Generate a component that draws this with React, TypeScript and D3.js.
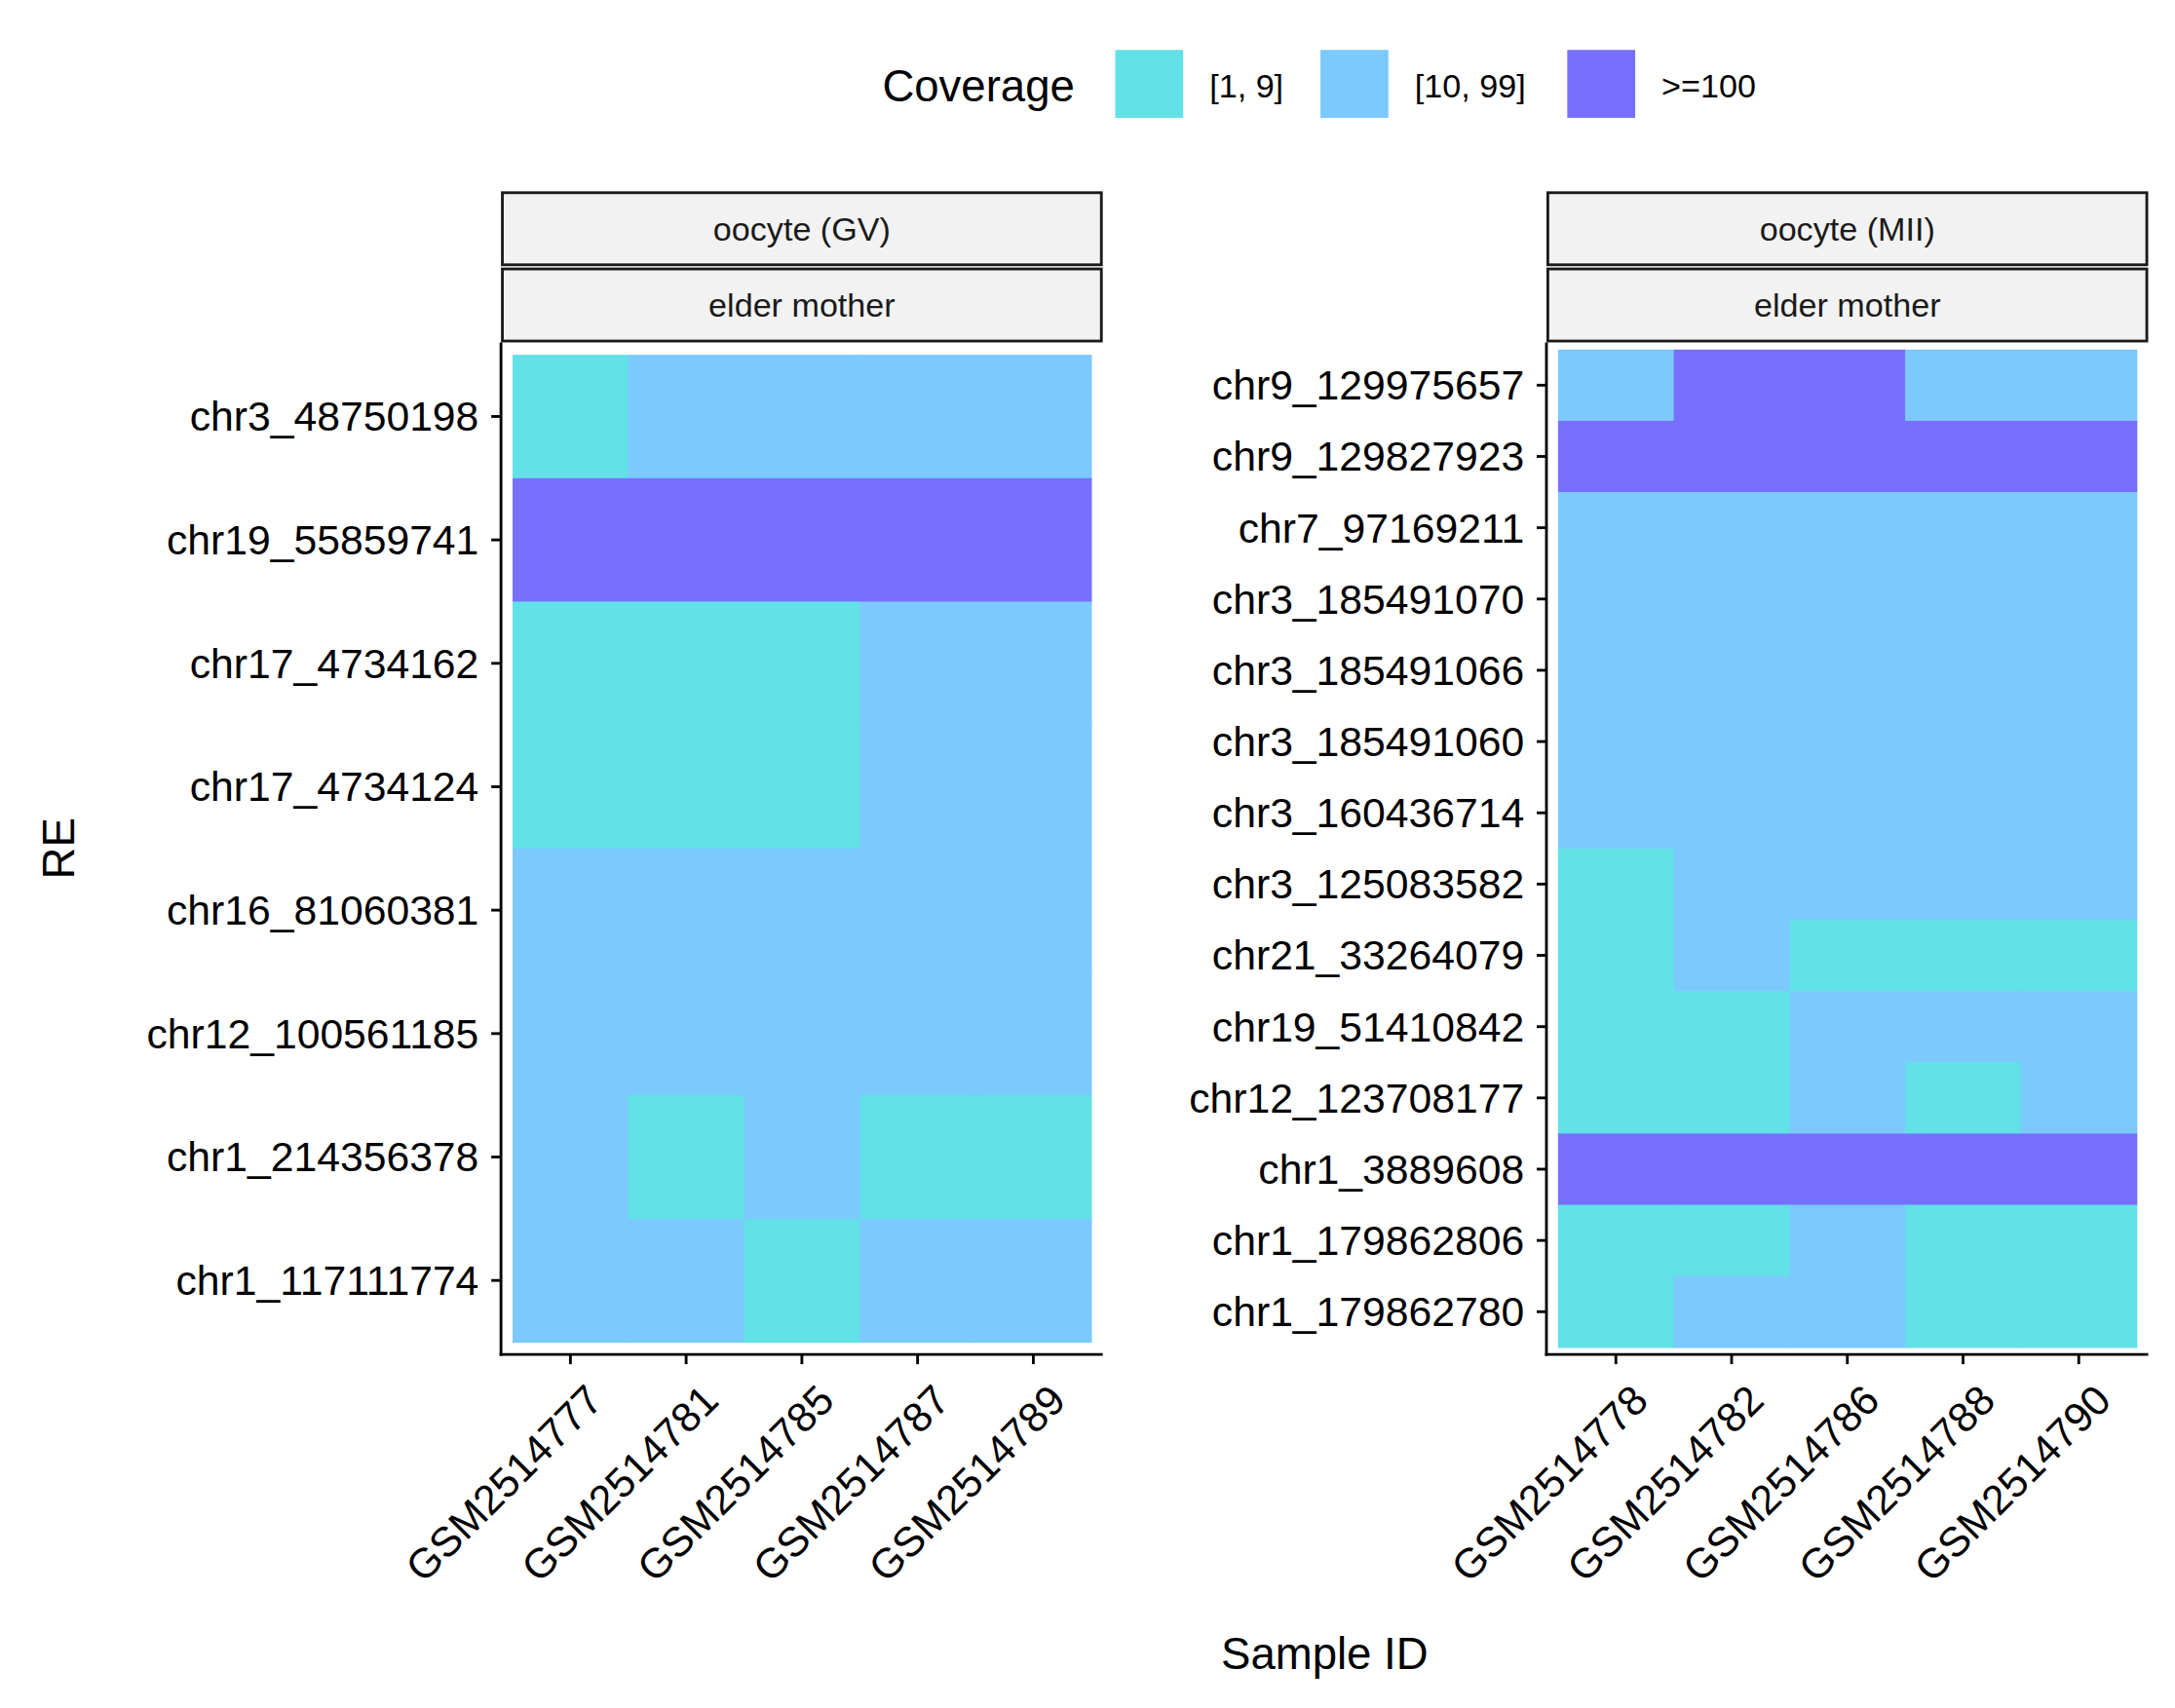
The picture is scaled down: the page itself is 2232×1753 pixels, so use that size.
import React from "react";
import * as d3 from "d3";

const leftSamples = ["GSM2514777","GSM2514781","GSM2514785","GSM2514787","GSM2514789"];
const leftRows = ["chr3_48750198","chr19_55859741","chr17_4734162","chr17_4734124","chr16_81060381","chr12_100561185","chr1_214356378","chr1_117111774"];
const leftValues = [
  [1,2,2,2,2],[3,3,3,3,3],[1,1,1,2,2],[1,1,1,2,2],[2,2,2,2,2],[2,2,2,2,2],[2,1,2,1,1],[2,2,1,2,2],
];
const rightSamples = ["GSM2514778","GSM2514782","GSM2514786","GSM2514788","GSM2514790"];
const rightRows = ["chr9_129975657","chr9_129827923","chr7_97169211","chr3_185491070","chr3_185491066","chr3_185491060","chr3_160436714","chr3_125083582","chr21_33264079","chr19_51410842","chr12_123708177","chr1_3889608","chr1_179862806","chr1_179862780"];
const rightValues = [
  [2,3,3,2,2],[3,3,3,3,3],[2,2,2,2,2],[2,2,2,2,2],[2,2,2,2,2],[2,2,2,2,2],[2,2,2,2,2],[1,2,2,2,2],[1,2,1,1,1],[1,1,2,2,2],[1,1,2,1,2],[3,3,3,3,3],[1,1,2,1,1],[1,2,2,1,1],
];
const legendLabels = ["[1, 9]","[10, 99]",">=100"];
const legendColors = ["#62E1E7","#7BC9FF","#776FFF"];
const color = d3.scaleOrdinal<number,string>().domain([1,2,3]).range(legendColors);

const FONT = "'Liberation Sans', Arial, sans-serif";

function Panel({x0, x1, samples, rows, values, title}:{x0:number;x1:number;samples:string[];rows:string[];values:number[][];title:string}) {
  const y0 = 247, y1 = 977;
  const nx = samples.length, ny = rows.length;
  const xs = d3.scaleLinear().domain([-0.6, nx - 0.4]).range([x0, x1]);
  const ys = d3.scaleLinear().domain([-0.6, ny - 0.4]).range([y0, y1]);
  return (
    <g>
      {values.map((row, r) => row.map((v, c) => (
        <rect key={r+"-"+c} x={xs(c-0.5)} y={ys(r-0.5)} width={xs(c+0.5)-xs(c-0.5)+0.5} height={ys(r+0.5)-ys(r-0.5)+0.5} fill={color(v)} />
      )))}
      <line x1={x0} x2={x0} y1={y0} y2={y1+1} stroke="black" strokeWidth={2} />
      <line x1={x0-1} x2={x1} y1={y1} y2={y1} stroke="black" strokeWidth={2} />
      {rows.map((r, i) => (
        <g key={r}>
          <line x1={x0-7} x2={x0} y1={ys(i)} y2={ys(i)} stroke="black" strokeWidth={2} />
          <text x={x0-16} y={ys(i)} dy="0.35em" textAnchor="end" fontSize={30} fill="#000">{r}</text>
        </g>
      ))}
      {samples.map((s, i) => (
        <g key={s}>
          <line x1={xs(i)} x2={xs(i)} y1={y1} y2={y1+7} stroke="black" strokeWidth={2} />
          <text transform={`translate(${xs(i)+10},${y1+20}) rotate(-45)`} textAnchor="end" dy="0.7em" fontSize={30} fill="#000">{s}</text>
        </g>
      ))}
      <rect x={x0+1} y={139} width={x1-x0-2} height={52} fill="#F2F2F2" stroke="#1a1a1a" strokeWidth={2} />
      <text x={(x0+x1)/2} y={165} dy="0.35em" textAnchor="middle" fontSize={24} fill="#1a1a1a">{title}</text>
      <rect x={x0+1} y={194} width={x1-x0-2} height={52} fill="#F2F2F2" stroke="#1a1a1a" strokeWidth={2} />
      <text x={(x0+x1)/2} y={220} dy="0.35em" textAnchor="middle" fontSize={24} fill="#1a1a1a">elder mother</text>
    </g>
  );
}

export default function App() {
  const keyX = [804, 952, 1130];
  return (
    <svg width={2232} height={1753} viewBox="0 0 1568 1232" style={{position:"absolute", left:0, top:0, background:"white"}} fontFamily={FONT}>
      <rect width={1568} height={1232} fill="white" />
      <text x={636} y={62} dy="0.35em" fontSize={32}>Coverage</text>
      {legendLabels.map((l, i) => (
        <g key={l}>
          <rect x={keyX[i]} y={36} width={49} height={49} fill={legendColors[i]} />
          <text x={keyX[i]+68} y={62} dy="0.35em" fontSize={24}>{l}</text>
        </g>
      ))}
      <Panel x0={361} x1={795} samples={leftSamples} rows={leftRows} values={leftValues} title="oocyte (GV)" />
      <Panel x0={1115} x1={1549} samples={rightSamples} rows={rightRows} values={rightValues} title="oocyte (MII)" />
      <text transform="translate(42,612) rotate(-90)" textAnchor="middle" dy="0.35em" fontSize={32}>RE</text>
      <text x={955} y={1193} textAnchor="middle" dy="0.35em" fontSize={32}>Sample ID</text>
    </svg>
  );
}
